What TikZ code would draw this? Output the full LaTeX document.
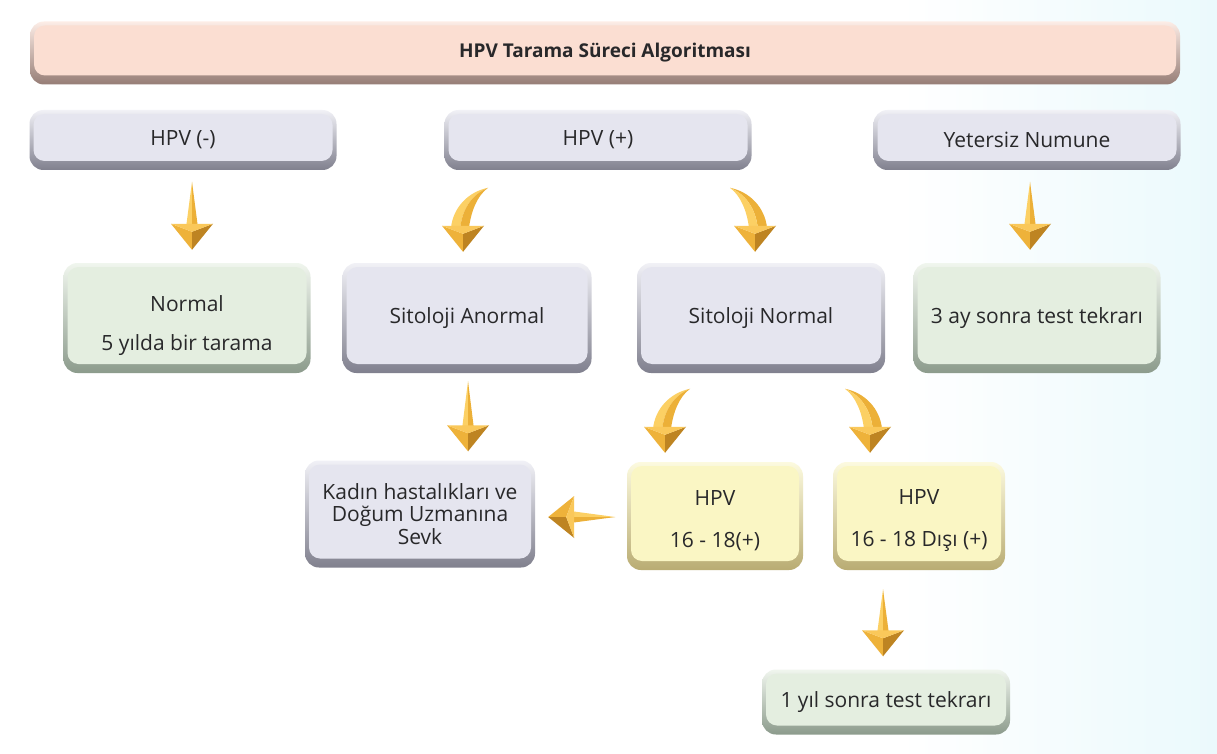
\documentclass[tikz,border=0pt]{standalone}
\usepackage{fontspec}
\setmainfont{Open Sans}
\usetikzlibrary{calc}

% palette
\definecolor{ink}{RGB}{40,40,42}
\definecolor{peachM}{RGB}{251,222,210}
\definecolor{peachD}{RGB}{150,125,118}
\definecolor{lavM}{RGB}{229,229,239}
\definecolor{lavD}{RGB}{128,128,142}
\definecolor{grnM}{RGB}{228,238,224}
\definecolor{grnD}{RGB}{140,155,140}
\definecolor{yelM}{RGB}{250,246,196}
\definecolor{yelD}{RGB}{185,172,115}
\definecolor{goldL}{RGB}{252,208,100}
\definecolor{goldM}{RGB}{236,176,56}
\definecolor{goldT}{RGB}{250,200,90}
\definecolor{goldF}{RGB}{238,178,58}
\definecolor{goldD}{RGB}{190,132,34}
\definecolor{bgC}{RGB}{196,238,247}

\pgfdeclarehorizontalshading{pagebg}{100bp}{color(0bp)=(white); color(62bp)=(white); color(100bp)=(bgC)}

\tikzset{
  % bevelled rounded box: shaded rim, flat face inset
  bevel/.style n args={2}{
    rounded corners=14pt, top color=#1!55!white, bottom color=#2,
    path picture={
      \fill[#1, rounded corners=11pt]
        ($(path picture bounding box.south west)+(4pt,9pt)$) rectangle
        ($(path picture bounding box.north east)+(-4pt,-4pt)$);
    }},
  card/.style={text=ink, align=center, inner sep=0pt,
    font=\fontsize{21}{24}\selectfont},
  peachbox/.style={card, bevel={peachM}{peachD}},
  lavbox/.style={card, bevel={lavM}{lavD}},
  grnbox/.style={card, bevel={grnM}{grnD}},
  yelbox/.style={card, bevel={yelM}{yelD}},
  % straight gold arrow, tip at the origin, pointing down; #1 = length
  pics/goldarrow/.style={code={
    \fill[goldL] (0,-#1) -- (-6,-22) -- (0,-22) -- cycle;
    \fill[goldM] (0,-#1) -- (6,-22) -- (0,-22) -- cycle;
    \fill[goldF] (-21,-26) -- (0,-18) -- (0,0) -- cycle;
    \fill[goldD] (21,-26) -- (0,-18) -- (0,0) -- cycle;
    \fill[goldT] (-21,-26) -- (21,-26) -- (0,-18) -- cycle;
  }},
  % curved gold arrow, tip at the origin; #1 = side the tail bends to,
  % #2 and #3 = colours of the two halves of the tail
  pics/bentarrow/.style n args={3}{code={
    \fill[#2] ({-12*#1},-24) .. controls ({-10*#1},-44) and ({5*#1},-60) .. ({25*#1},-64)
      .. controls ({10*#1},-58) and ({-1*#1},-44) .. ({-3*#1},-22) -- cycle;
    \fill[#3] ({-3*#1},-22) .. controls ({-1*#1},-44) and ({10*#1},-58) .. ({25*#1},-64)
      .. controls ({14*#1},-56) and ({8*#1},-40) .. ({6*#1},-24) -- cycle;
    \fill[goldF] (-21,-26) -- (0,-18) -- (0,0) -- cycle;
    \fill[goldD] (21,-26) -- (0,-18) -- (0,0) -- cycle;
    \fill[goldT] (-21,-26) -- (21,-26) -- (0,-18) -- cycle;
  }},
}

\begin{document}
\begin{tikzpicture}[x=1pt, y=-1pt]
  \useasboundingbox (0,0) rectangle (1217,754);
  \shade[shading=pagebg] (0,0) rectangle (1217,754);

  % header
  \node[peachbox, minimum width=1150pt, minimum height=63pt,
        font=\fontsize{19}{22}\selectfont\bfseries] (title) at (605,53)
        {HPV Tarama Süreci Algoritması};

  % test results
  \node[lavbox, minimum width=307pt, minimum height=60pt] (neg) at (183,140) {HPV (-)};
  \node[lavbox, minimum width=307pt, minimum height=60pt] (pos) at (598,140) {HPV (+)};
  \node[lavbox, minimum width=307pt, minimum height=60pt] (inad) at (1027,140) {Yetersiz Numune};

  % second row
  \node[grnbox, minimum width=247pt, minimum height=110pt] (normal) at (187,318)
        {\rule{0pt}{31pt}Normal\\[15pt]5 yılda bir tarama};
  \node[lavbox, minimum width=249pt, minimum height=110pt] (abn) at (467,318) {Sitoloji Anormal};
  \node[lavbox, minimum width=248pt, minimum height=110pt] (cytn) at (761,318) {Sitoloji Normal};
  \node[grnbox, minimum width=247pt, minimum height=110pt] (three) at (1037,318)
        {3 ay sonra test tekrarı};

  % third row
  \node[lavbox, minimum width=230pt, minimum height=107pt,
        font=\fontsize{21}{22.5}\selectfont] (refer) at (420,514)
        {Kadın hastalıkları ve\\Doğum Uzmanına\\Sevk};
  \node[yelbox, minimum width=176pt, minimum height=108pt] (hr) at (715,516)
        {\rule{0pt}{24pt}HPV\\[18pt]16 - 18(+)};
  \node[yelbox, minimum width=172pt, minimum height=108pt] (other) at (919,516)
        {\rule{0pt}{24pt}HPV\\[18pt]16 - 18 Dışı (+)};

  % last row
  \node[grnbox, minimum width=248pt, minimum height=65pt] (year) at (886,702)
        {1 yıl sonra test tekrarı};

  % arrows
  \pic at ($(normal.north)+(5,-13)$) {goldarrow=68};
  \pic at ($(abn.north)+(-4,-11)$) {bentarrow={1}{goldL}{goldM}};
  \pic at ($(cytn.north)+(-6,-11)$) {bentarrow={-1}{goldM}{goldL}};
  \pic at ($(three.north)+(-7,-13)$) {goldarrow=68};
  \pic at ($(refer.north)+(48,-9)$) {goldarrow=70};
  \pic at ($(hr.north)+(-50,-9)$) {bentarrow={1}{goldL}{goldM}};
  \pic at ($(other.north)+(-49,-9)$) {bentarrow={-1}{goldM}{goldL}};
  \pic[rotate=-90] at ($(refer.east)+(13,3)$) {goldarrow=67};
  \pic at ($(year.north)+(-3,-13)$) {goldarrow=67};
\end{tikzpicture}
\end{document}
